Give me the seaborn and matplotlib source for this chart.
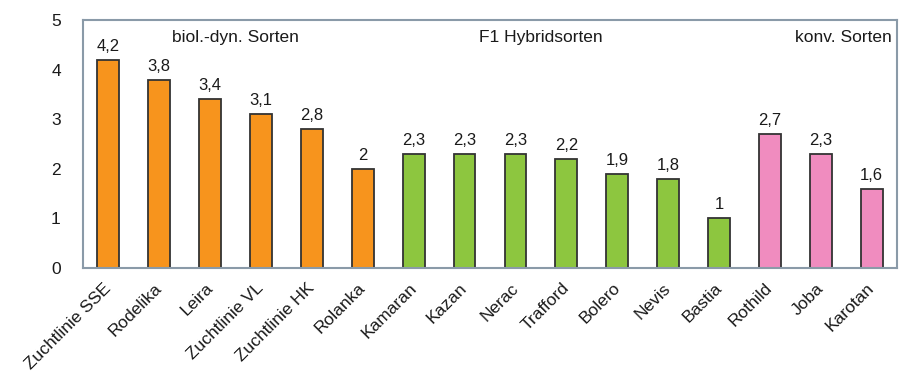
import seaborn as sns
import matplotlib.pyplot as plt
import matplotlib.transforms as mtransforms
import pandas as pd

sorten = ["Zuchtlinie SSE", "Rodelika", "Leira", "Zuchtlinie VL", "Zuchtlinie HK", "Rolanka",
          "Kamaran", "Kazan", "Nerac", "Trafford", "Bolero", "Nevis", "Bastia",
          "Rothild", "Joba", "Karotan"]
werte = [4.2, 3.8, 3.4, 3.1, 2.8, 2.0,
         2.3, 2.3, 2.3, 2.2, 1.9, 1.8, 1.0,
         2.7, 2.3, 1.6]
gruppe = ["bio"] * 6 + ["f1"] * 7 + ["konv"] * 3
farben = {"bio": "#f7941d", "f1": "#8dc63f", "konv": "#f08cbf"}

data = pd.DataFrame({"sorte": sorten, "wert": werte, "gruppe": gruppe})

plt.rcParams["font.family"] = ["Liberation Sans", "DejaVu Sans"]
fig = plt.figure(figsize=(8.99, 3.86), dpi=100)
ax = fig.add_axes([0.0923, 0.306, 0.9055, 0.642])

sns.barplot(data=data, x="sorte", y="wert", hue="sorte",
            palette=[farben[g] for g in gruppe], legend=False, saturation=1,
            width=0.43, edgecolor="#333333", linewidth=1.3, ax=ax)

for i, v in enumerate(werte):
    txt = f"{v:g}".replace(".", ",")
    ax.text(i, v + 0.12, txt, ha="center", va="bottom", fontsize=12, color="#1a1a1a")

ax.set_ylim(0, 5)
ax.set_xlim(-0.5, len(sorten) - 0.5)
ax.set_yticks(range(6))
ax.set_xlabel("")
ax.set_ylabel("")
ax.tick_params(axis="y", length=0, pad=16, labelsize=12.5, labelcolor="#1a1a1a")
ax.tick_params(axis="x", length=0, pad=9, labelsize=12.5, labelcolor="#1a1a1a")
shift = mtransforms.ScaledTranslation(-0.05, 0, fig.dpi_scale_trans)
for lbl in ax.get_xticklabels():
    lbl.set_rotation(45)
    lbl.set_ha("right")
    lbl.set_rotation_mode("anchor")
    lbl.set_transform(lbl.get_transform() + shift)
for s in ax.spines.values():
    s.set_color("#8a9aa8")
    s.set_linewidth(1.5)

ax.text(1.25, 4.65, "biol.-dyn. Sorten", fontsize=12.5, color="#1a1a1a", va="center")
ax.text(8.5, 4.65, "F1 Hybridsorten", fontsize=12.5, color="#1a1a1a", va="center", ha="center")
ax.text(15.4, 4.65, "konv. Sorten", fontsize=12.5, color="#1a1a1a", va="center", ha="right")

fig.savefig("out.png", dpi=100)
